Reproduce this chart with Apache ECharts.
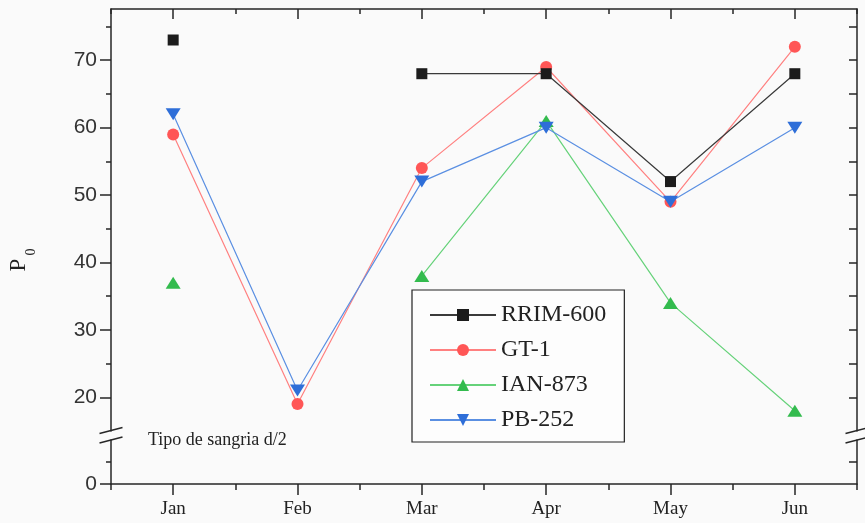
<!DOCTYPE html>
<html>
<head>
<meta charset="utf-8">
<script src="https://cdn.jsdelivr.net/npm/echarts@6/dist/echarts.min.js"></script>
<style>
  html, body { margin: 0; padding: 0; background: #fafafa; }
  #chart { width: 865px; height: 523px; }
</style>
</head>
<body>
<div id="chart"></div>
<script>
// Monthly P0 values per clone (tapping system d/2)
const months = ['Jan', 'Feb', 'Mar', 'Apr', 'May', 'Jun'];
const rrim600 = [73, null, 68, 68, 52, 68];
const gt1 = [59, 19, 54, 69, 49, 72];
const ian873 = [37, null, 38, 61, 34, 18];
const pb252 = [62, 21, 52, 60, 49, 60];

// Tick values for the two parts of the broken value axis
const upperMajorTicks = [20, 30, 40, 50, 60, 70];
const upperMinorTicks = [25, 35, 45, 55, 65, 75];
const upperAllTicks = [20, 25, 30, 35, 40, 45, 50, 55, 60, 65, 70, 75];
const lowerMajorTicks = [0];
const lowerMinorTicks = [5];

const AXIS = '#262626';
const SERIF = '"Liberation Serif", "Times New Roman", serif';
const SANS = '"Liberation Sans", Arial, sans-serif';

// Layout of the two stacked panels (upper 15–77.6, lower 0–10)
const L = 111, W = 746;
const UP_TOP = 9, UP_H = 422;
const LO_TOP = 440, LO_H = 44;

const chart = echarts.init(document.getElementById('chart'));

function slash(x, y) {
  // pair of parallel strokes marking the axis break
  return [
    { type: 'line', shape: { x1: x - 11.5, y1: y - 1.5, x2: x + 11.5, y2: y - 7.5 },
      style: { stroke: AXIS, lineWidth: 1.5 }, z: 10 },
    { type: 'line', shape: { x1: x - 11.5, y1: y + 8, x2: x + 11.5, y2: y + 2 },
      style: { stroke: AXIS, lineWidth: 1.5 }, z: 10 }
  ];
}

const catBase = {
  type: 'category', data: months, boundaryGap: true,
  splitLine: { show: false }
};
const lineAxis = { show: true, lineStyle: { color: AXIS, width: 1.5 } };

chart.setOption({
  animation: false,
  backgroundColor: '#fafafa',
  grid: [
    { left: L, top: UP_TOP, width: W, height: UP_H, containLabel: false },
    { left: L, top: LO_TOP, width: W, height: LO_H, containLabel: false }
  ],
  xAxis: [
    Object.assign({}, catBase, {
      gridIndex: 0, position: 'top', axisLine: lineAxis,
      axisTick: { show: true, alignWithLabel: true, inside: true, length: 10, lineStyle: { color: AXIS, width: 1.5 } },
      axisLabel: { show: false }
    }),
    Object.assign({}, catBase, {
      gridIndex: 0, position: 'top', axisLine: { show: false },
      axisTick: { show: true, inside: true, length: 5, lineStyle: { color: AXIS, width: 1.5 } },
      axisLabel: { show: false }
    }),
    Object.assign({}, catBase, {
      gridIndex: 1, position: 'bottom', axisLine: lineAxis,
      axisTick: { show: true, alignWithLabel: true, length: 11, lineStyle: { color: AXIS, width: 1.5 } },
      axisLabel: { show: true, margin: 16, fontFamily: SERIF, fontSize: 19, color: '#222' }
    }),
    Object.assign({}, catBase, {
      gridIndex: 1, position: 'bottom', axisLine: { show: false },
      axisTick: { show: true, length: 6, lineStyle: { color: AXIS, width: 1.5 } },
      axisLabel: { show: false }
    })
  ],
  yAxis: [
    {
      type: 'value', gridIndex: 0, position: 'left', min: 15, max: 77.6,
      axisLine: lineAxis, splitLine: { show: false },
      axisTick: { show: true, customValues: upperMajorTicks, length: 11, lineStyle: { color: AXIS, width: 1.5 } },
      axisLabel: { show: true, customValues: upperMajorTicks, margin: 14, fontFamily: SANS, fontSize: 21, color: '#333' }
    },
    {
      type: 'value', gridIndex: 0, position: 'left', min: 15, max: 77.6,
      axisLine: { show: false }, splitLine: { show: false },
      axisTick: { show: true, customValues: upperMinorTicks, length: 5, lineStyle: { color: AXIS, width: 1.5 } },
      axisLabel: { show: false }
    },
    {
      type: 'value', gridIndex: 0, position: 'right', min: 15, max: 77.6,
      axisLine: lineAxis, splitLine: { show: false },
      axisTick: { show: true, customValues: upperAllTicks, inside: true, length: 8, lineStyle: { color: AXIS, width: 1.5 } },
      axisLabel: { show: false }
    },
    {
      type: 'value', gridIndex: 1, position: 'left', min: 0, max: 10,
      axisLine: lineAxis, splitLine: { show: false },
      axisTick: { show: true, customValues: lowerMajorTicks, length: 11, lineStyle: { color: AXIS, width: 1.5 } },
      axisLabel: { show: true, customValues: lowerMajorTicks, margin: 14, fontFamily: SANS, fontSize: 21, color: '#333' }
    },
    {
      type: 'value', gridIndex: 1, position: 'left', min: 0, max: 10,
      axisLine: { show: false }, splitLine: { show: false },
      axisTick: { show: true, customValues: lowerMinorTicks, length: 5, lineStyle: { color: AXIS, width: 1.5 } },
      axisLabel: { show: false }
    },
    {
      type: 'value', gridIndex: 1, position: 'right', min: 0, max: 10,
      axisLine: lineAxis, splitLine: { show: false },
      axisTick: { show: true, customValues: lowerMinorTicks, inside: true, length: 8, lineStyle: { color: AXIS, width: 1.5 } },
      axisLabel: { show: false }
    }
  ],
  legend: {
    orient: 'vertical', left: 412, top: 290,
    data: ['RRIM-600', 'GT-1', 'IAN-873', 'PB-252'],
    itemWidth: 66, itemHeight: 15, itemGap: 11,
    padding: [13, 18, 10, 17],
    borderColor: '#222', borderWidth: 1.2, borderRadius: 0,
    backgroundColor: 'rgba(255,255,255,0.6)',
    textStyle: { fontFamily: SERIF, fontSize: 24, lineHeight: 24, color: '#222' }
  },
  series: [
    {
      name: 'GT-1', type: 'line', xAxisIndex: 0, yAxisIndex: 0, data: gt1,
      symbol: 'circle', symbolSize: 12,
      itemStyle: { color: '#ff5656' }, lineStyle: { color: '#ff8080', width: 1.2 }
    },
    {
      name: 'IAN-873', type: 'line', xAxisIndex: 0, yAxisIndex: 0, data: ian873,
      symbol: 'triangle', symbolSize: [15, 12],
      itemStyle: { color: '#33bb4e' }, lineStyle: { color: '#66d27a', width: 1.2 }
    },
    {
      name: 'PB-252', type: 'line', xAxisIndex: 0, yAxisIndex: 0, data: pb252,
      symbol: 'path://M0,0 L2,0 L1,1.7 Z', symbolSize: [15, 12],
      itemStyle: { color: '#2e6ed8' }, lineStyle: { color: '#5a8fe2', width: 1.2 }
    },
    {
      name: 'RRIM-600', type: 'line', xAxisIndex: 0, yAxisIndex: 0, data: rrim600,
      symbol: 'rect', symbolSize: 11,
      itemStyle: { color: '#1c1c1c' }, lineStyle: { color: '#3a3a3a', width: 1.2 }
    }
  ],
  graphic: [
    ...slash(L, 435),
    ...slash(L + W, 435),
    {
      type: 'text', x: 148, y: 440,
      style: { text: 'Tipo de sangria d/2', font: '18px ' + SERIF, fill: '#222', textVerticalAlign: 'middle' }
    },
    {
      type: 'text', x: 19, y: 265, rotation: Math.PI / 2,
      style: { text: 'P', font: '23px ' + SERIF, fill: '#222', textAlign: 'center', textVerticalAlign: 'middle' }
    },
    {
      type: 'text', x: 31, y: 252, rotation: Math.PI / 2,
      style: { text: '0', font: '14px ' + SERIF, fill: '#222', textAlign: 'center', textVerticalAlign: 'middle' }
    }
  ]
});
</script>
</body>
</html>
